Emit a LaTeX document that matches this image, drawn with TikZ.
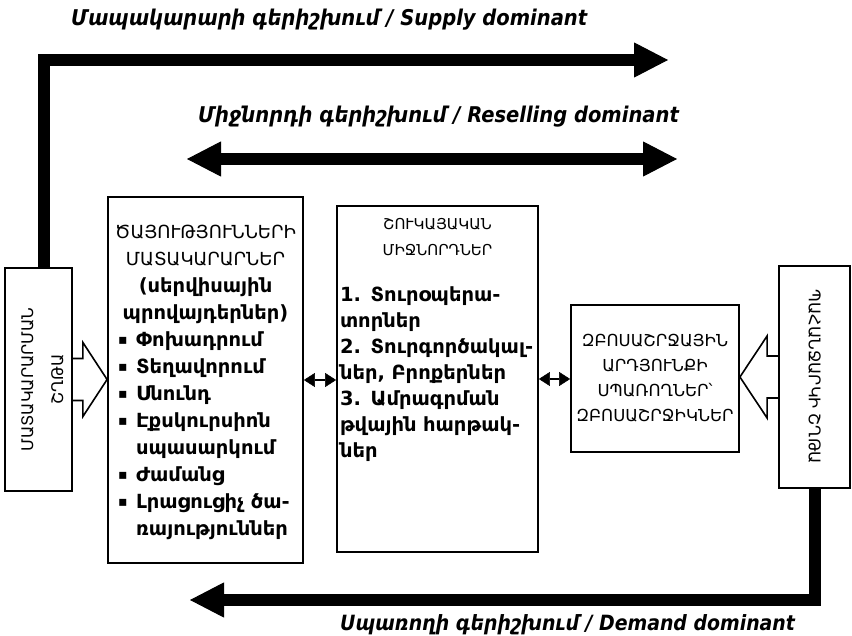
\documentclass[tikz,border=0pt]{standalone}
\usepackage{fontspec}
\setmainfont{DejaVu Sans}
\newfontfamily\headfont{DejaVu Sans Condensed Bold Oblique}
\usetikzlibrary{arrows.meta,calc,positioning}
\newcommand\ctr[1]{\makebox[\linewidth][c]{#1}}
\newcommand\itm{\makebox[18pt][l]{\raisebox{2pt}{\fontsize{14}{27}\selectfont▪}}}

\begin{document}
\begin{tikzpicture}[x=1pt,y=-1pt,line join=miter,
  box/.style={draw,line width=1.8pt,inner sep=0pt},
  fatline/.style={line width=12pt},
  tip/.style={-{Triangle[length=34pt,width=35pt,line width=1pt]}},
  bothtip/.style={{Triangle[length=34pt,width=35pt,line width=1pt]}-{Triangle[length=34pt,width=35pt,line width=1pt]}},
  blockarr/.style={line width=1.6pt},
  linkarr/.style={line width=2.5pt,{Triangle[length=11pt,width=14pt,line width=0.5pt]}-{Triangle[length=11pt,width=14pt,line width=0.5pt]}},
  capstxt/.style={inner sep=0pt,align=center,font=\fontsize{16}{25}\selectfont},
  listtxt/.style={inner sep=0pt,align=left,font=\bfseries\fontsize{19.5}{27}\selectfont},
  title/.style={inner sep=0pt,anchor=west,font=\headfont\fontsize{21.7}{25}\selectfont}]
\useasboundingbox (0,0) rectangle (852,636);

\node[box,minimum width=67pt,minimum height=223pt] (lchain) at (38.5,379.5) {};
\node[box,minimum width=195pt,minimum height=366pt] (serv) at (205.5,380) {};
\node[box,minimum width=201pt,minimum height=346pt] (resell) at (437.5,379) {};
\node[box,minimum width=168pt,minimum height=147pt] (cons) at (655,378.5) {};
\node[box,minimum width=71pt,minimum height=222pt] (dchain) at (814.5,377) {};

\node[capstxt,rotate=90,font=\fontsize{16}{30}\selectfont] (lchaintxt) at ($(lchain)+(4,0)$) {ՄԱՏԱԿԱՐԱՐՄԱՆ\\ՇՂԹԱ};
\node[capstxt,rotate=-90] (dchaintxt) at (dchain) {ՊԱՀԱՆՋԱՐԿԻ ՇՂԹԱ};

\node[listtxt,text width=175pt,below=29pt of serv.north] (servtxt)
  {\ctr{\mdseries\fontsize{18}{27}\selectfont ԾԱՅՈՒԹՅՈՒՆՆԵՐԻ}\\\ctr{\mdseries\fontsize{18}{27}\selectfont ՄԱՏԱԿԱՐԱՐՆԵՐ}\\\ctr{(սերվիսային}\\\ctr{պրովայդերներ)}\\
   \itm Փոխադրում\\\itm Տեղավորում\\\itm Սնունդ\\\itm Էքսկուրսիոն\\\hspace*{18pt}սպասարկում\\
   \itm Ժամանց\\\itm Լրացուցիչ ծա-\\\hspace*{18pt}ռայություններ};

\node[listtxt,text width=195pt,below=13pt of resell.north,font=\bfseries\fontsize{19.5}{26}\selectfont] (reselltxt)
  {\ctr{\mdseries\fontsize{15}{26}\selectfont ՇՈՒԿԱՅԱԿԱՆ}\\\ctr{\mdseries\fontsize{15}{26}\selectfont ՄԻՋՆՈՐԴՆԵՐ}\\[20pt]
   1. Տուրօպերա-\\տորներ\\2. Տուրգործակալ-\\ներ, Բրոքերներ\\3. Ամրագրման\\թվային հարթակ-\\ներ};

\node[capstxt,font=\fontsize{16.5}{25}\selectfont] (constxt) at (cons) {ԶԲՈՍԱՇՐՋԱՅԻՆ\\ԱՐԴՅՈՒՆՔԻ\\ՍՊԱՌՈՂՆԵՐ՝\\ԶԲՈՍԱՇՐՋԻԿՆԵՐ};

\draw[blockarr] ($(lchain.east)+(0,-21)$) -- ++(10,0) -- ++(0,-16) -- (serv.west |- lchain.east)
  -- ($(lchain.east)+(10,37)$) -- ++(0,-16) -- ($(lchain.east)+(0,21)$);
\draw[blockarr] ($(dchain.west)+(0,-21)$) -- ++(-11,0) -- ++(0,-20) -- (cons.east |- dchain.west)
  -- ($(dchain.west)+(-11,41)$) -- ++(0,-20) -- ($(dchain.west)+(0,21)$);

\draw[linkarr] (serv.east) -- (resell.west |- serv.east);
\draw[linkarr] (resell.east) -- (cons.west |- resell.east);

\coordinate (suptip) at (668,60);
\coordinate (resl) at (187,159);
\coordinate (resr) at (677,159);
\coordinate (demtip) at (190,600);
\draw[fatline,tip] ($(lchain.north)+(5,0)$) |- (suptip);
\draw[fatline,bothtip] (resl) -- (resr);
\draw[line width=11pt] ($(resell.north)+(-5,0)$) -- ($(resell.north)+(-5,0)$ |- resl);
\draw[fatline,tip] (dchain.south) |- (demtip);

\node[title] (suptitle) at (71,20) {Մապակարարի գերիշխում / Supply dominant};
\node[title] (restitle) at (198,117) {Միջնորդի գերիշխում / Reselling dominant};
\node[title,font=\headfont\fontsize{21}{25}\selectfont] (demtitle) at (340,625) {Սպառողի գերիշխում / Demand dominant};
\end{tikzpicture}
\end{document}
